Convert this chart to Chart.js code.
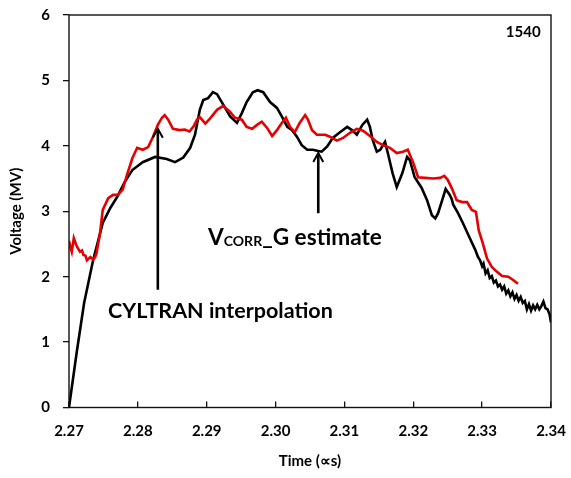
<!DOCTYPE html>
<html>
<head>
<meta charset="utf-8">
<script src="https://cdn.jsdelivr.net/npm/chart.js@4/dist/chart.umd.min.js"></script>
<style>
  html, body { margin: 0; padding: 0; background: #fff; }
  #wrap { width: 571px; height: 478px; }
</style>
</head>
<body>
<div id="wrap"><canvas id="chart" width="571" height="478"></canvas></div>
<script>
// Shot 1540: gap voltage vs time
const xTicks = [2.27, 2.28, 2.29, 2.30, 2.31, 2.32, 2.33, 2.34];
const yTicks = [0, 1, 2, 3, 4, 5, 6];

// V_CORR_G estimate (black)
const vcorrTime = [
  2.2700, 2.2711, 2.2722, 2.2735, 2.2749, 2.2760, 2.2770, 2.2781, 2.2792, 2.2807,
  2.2825, 2.2842, 2.2854, 2.2866, 2.2876, 2.2883, 2.2890, 2.2895, 2.2902, 2.2909,
  2.2915, 2.2924, 2.2934, 2.2944, 2.2951, 2.2958, 2.2967, 2.2974, 2.2982, 2.2992,
  2.3002, 2.3009, 2.3017, 2.3024, 2.3031, 2.3038, 2.3046, 2.3054, 2.3062, 2.3067,
  2.3075, 2.3083, 2.3094, 2.3104, 2.3111, 2.3118, 2.3126, 2.3133, 2.3137, 2.3141,
  2.3147, 2.3152, 2.3159, 2.3163, 2.3170, 2.3176, 2.3184, 2.3191, 2.3195, 2.3202,
  2.3212, 2.3220, 2.3227, 2.3232, 2.3236, 2.3242, 2.3247, 2.3253, 2.3256, 2.3258,
  2.3265, 2.3272, 2.3282, 2.3290, 2.3294, 2.3297, 2.3300, 2.3302, 2.3305, 2.3308,
  2.3311, 2.3314, 2.3317, 2.3320, 2.3323, 2.3326, 2.3329, 2.3332, 2.3335, 2.3338,
  2.3341, 2.3344, 2.3347, 2.3350, 2.3353, 2.3356, 2.3359, 2.3362, 2.3365, 2.3368,
  2.3371, 2.3374, 2.3377, 2.3380, 2.3383, 2.3386, 2.3389, 2.3392, 2.3395, 2.3398,
  2.3400
];
const vcorrVolt = [
  0.00, 0.83, 1.60, 2.25, 2.82, 3.05, 3.22, 3.45, 3.63, 3.75,
  3.83, 3.80, 3.75, 3.82, 3.97, 4.17, 4.55, 4.70, 4.73, 4.82,
  4.79, 4.63, 4.45, 4.35, 4.50, 4.67, 4.82, 4.85, 4.82, 4.67,
  4.58, 4.45, 4.29, 4.24, 4.14, 4.01, 3.94, 3.94, 3.92, 3.91,
  3.99, 4.12, 4.21, 4.29, 4.24, 4.17, 4.32, 4.40, 4.29, 4.09,
  3.91, 3.94, 4.06, 3.89, 3.58, 3.37, 3.58, 3.83, 3.78, 3.52,
  3.36, 3.17, 2.94, 2.89, 2.97, 3.17, 3.34, 3.25, 3.18, 3.10,
  2.97, 2.82, 2.59, 2.41, 2.30, 2.25, 2.16, 2.20, 2.05, 2.10,
  1.98, 2.01, 1.91, 1.94, 1.85, 1.88, 1.80, 1.85, 1.74, 1.79,
  1.70, 1.76, 1.66, 1.72, 1.63, 1.69, 1.60, 1.63, 1.50, 1.58,
  1.48, 1.56, 1.50, 1.57, 1.50, 1.55, 1.62, 1.52, 1.50, 1.42,
  1.30
];

// CYLTRAN interpolation (red)
const cyltranTime = [
  2.2700, 2.2702, 2.2704, 2.2707, 2.2710, 2.2712, 2.2716, 2.2719, 2.2721, 2.2724,
  2.2726, 2.2729, 2.2731, 2.2735, 2.2738, 2.2740, 2.2745, 2.2749, 2.2757, 2.2764,
  2.2771, 2.2778, 2.2784, 2.2792, 2.2799, 2.2807, 2.2815, 2.2822, 2.2829, 2.2835,
  2.2839, 2.2844, 2.2851, 2.2861, 2.2868, 2.2875, 2.2881, 2.2886, 2.2890, 2.2898,
  2.2905, 2.2915, 2.2924, 2.2934, 2.2941, 2.2951, 2.2958, 2.2966, 2.2973, 2.2980,
  2.2988, 2.2995, 2.3002, 2.3009, 2.3015, 2.3021, 2.3028, 2.3035, 2.3043, 2.3047,
  2.3053, 2.3060, 2.3072, 2.3079, 2.3089, 2.3098, 2.3108, 2.3118, 2.3127, 2.3137,
  2.3147, 2.3156, 2.3166, 2.3176, 2.3185, 2.3192, 2.3200, 2.3207, 2.3217, 2.3229,
  2.3239, 2.3245, 2.3250, 2.3256, 2.3263, 2.3271, 2.3278, 2.3285, 2.3291, 2.3295,
  2.3301, 2.3307, 2.3314, 2.3322, 2.3329, 2.3338, 2.3345, 2.3352
];
const cyltranVolt = [
  2.55, 2.45, 2.38, 2.59, 2.50, 2.45, 2.38, 2.40, 2.33, 2.32,
  2.25, 2.28, 2.30, 2.26, 2.30, 2.36, 2.66, 3.02, 3.20, 3.25,
  3.25, 3.33, 3.55, 3.81, 3.97, 3.94, 3.98, 4.14, 4.32, 4.43,
  4.47, 4.40, 4.26, 4.24, 4.25, 4.22, 4.30, 4.40, 4.44, 4.34,
  4.42, 4.55, 4.61, 4.52, 4.43, 4.40, 4.29, 4.26, 4.32, 4.37,
  4.27, 4.15, 4.24, 4.35, 4.43, 4.29, 4.21, 4.35, 4.47, 4.40,
  4.24, 4.17, 4.17, 4.14, 4.08, 4.12, 4.20, 4.26, 4.23, 4.15,
  4.06, 4.01, 3.97, 3.89, 3.91, 3.94, 3.74, 3.52, 3.51, 3.50,
  3.51, 3.54, 3.48, 3.35, 3.17, 3.14, 3.14, 3.02, 2.99, 2.71,
  2.51, 2.28, 2.15, 2.07, 2.01, 2.00, 1.95, 1.89
];

const FONT = 'Lato, "Open Sans", sans-serif';
const pairs = (xs, ys) => xs.map((x, i) => ({ x: x, y: ys[i] }));

// Arrows and callouts, positioned in data units
const arrows = [
  { x: 2.2829, from: 1.80, to: 4.26 },
  { x: 2.3062, from: 2.97, to: 3.89 }
];

const framePlugin = {
  id: 'frame',
  afterDatasetsDraw(chart) {
    const { ctx, chartArea: a } = chart;
    ctx.save();
    ctx.strokeStyle = '#111';
    ctx.lineWidth = 1.4;
    ctx.strokeRect(a.left, a.top, a.right - a.left, a.bottom - a.top);
    ctx.restore();
  }
};

const calloutPlugin = {
  id: 'callouts',
  afterDraw(chart) {
    const { ctx } = chart;
    const xs = chart.scales.x, ys = chart.scales.y;
    ctx.save();
    ctx.strokeStyle = '#000';
    ctx.fillStyle = '#000';
    ctx.lineCap = 'butt';

    // vertical arrows with open heads
    arrows.forEach(a => {
      const px = xs.getPixelForValue(a.x);
      const y0 = ys.getPixelForValue(a.from);
      const y1 = ys.getPixelForValue(a.to);
      ctx.lineWidth = 2.6;
      ctx.beginPath();
      ctx.moveTo(px, y0);
      ctx.lineTo(px, y1 + 1);
      ctx.stroke();
      ctx.lineWidth = 2;
      ctx.beginPath();
      ctx.moveTo(px - 5, y1 + 9);
      ctx.lineTo(px, y1);
      ctx.lineTo(px + 5, y1 + 9);
      ctx.stroke();
    });

    const fontAt = s => 'bold ' + s + 'px ' + FONT;
    const widthAt = (t, s) => { ctx.font = fontAt(s); return ctx.measureText(t).width; };

    ctx.textBaseline = 'alphabetic';
    ctx.textAlign = 'left';

    // "CYLTRAN interpolation"
    {
      const t = 'CYLTRAN interpolation';
      const s = 20 * 225 / widthAt(t, 20);
      ctx.font = fontAt(s);
      ctx.fillText(t, xs.getPixelForValue(2.27566), ys.getPixelForValue(1.368));
    }

    // "V_CORR_G estimate" with subscript
    {
      const k = 0.62;
      const w20 = widthAt('V', 20) + widthAt('CORR', 20 * k) + widthAt('_G estimate', 20);
      const s = 20 * 174 / w20;
      let x = xs.getPixelForValue(2.29019);
      const y = ys.getPixelForValue(2.485);
      ctx.font = fontAt(s);
      ctx.fillText('V', x, y);
      x += ctx.measureText('V').width;
      ctx.font = fontAt(s * k);
      ctx.fillText('CORR', x, y + 1);
      x += ctx.measureText('CORR').width;
      ctx.font = fontAt(s);
      ctx.fillText('_G estimate', x, y);
    }

    // shot number
    ctx.textAlign = 'right';
    ctx.font = fontAt(15);
    ctx.fillText('1540', xs.getPixelForValue(2.33849), ys.getPixelForValue(5.67));
    ctx.restore();
  }
};

new Chart(document.getElementById('chart'), {
  type: 'line',
  data: {
    datasets: [
      {
        label: 'CYLTRAN interpolation',
        data: pairs(cyltranTime, cyltranVolt),
        borderColor: '#e60000',
        borderWidth: 2.6,
        pointRadius: 0,
        tension: 0,
        fill: false
      },
      {
        label: 'VCORR_G estimate',
        data: pairs(vcorrTime, vcorrVolt),
        borderColor: '#000000',
        borderWidth: 2.6,
        pointRadius: 0,
        tension: 0,
        fill: false
      }
    ]
  },
  options: {
    responsive: false,
    animation: false,
    devicePixelRatio: 1,
    layout: { padding: { top: 15, right: 20, left: 0, bottom: 0 } },
    plugins: {
      legend: { display: false },
      tooltip: { enabled: false }
    },
    scales: {
      x: {
        type: 'linear',
        position: 'bottom',
        min: 2.27,
        max: 2.34,
        afterBuildTicks: s => { s.ticks = xTicks.map(v => ({ value: v })); },
        afterFit: s => { s.height = 70.5; s.paddingLeft = 0; s.paddingRight = 0; },
        border: { display: false },
        grid: {
          drawOnChartArea: false,
          drawTicks: true,
          tickLength: -6,
          color: '#111',
          lineWidth: 1.3
        },
        ticks: {
          color: '#000',
          padding: 21,
          maxRotation: 0,
          font: { family: FONT, size: 15, weight: 'bold' },
          callback: v => v.toFixed(2)
        },
        title: {
          display: true,
          text: 'Time (∝s)',
          color: '#000',
          font: { family: FONT, size: 15, weight: 'bold' },
          padding: { top: 0, bottom: 8 }
        }
      },
      y: {
        type: 'linear',
        min: 0,
        max: 6,
        afterBuildTicks: s => { s.ticks = yTicks.map(v => ({ value: v })); },
        afterFit: s => { s.width = 69; s.paddingTop = 0; s.paddingBottom = 0; },
        border: { display: false },
        grid: {
          drawOnChartArea: false,
          drawTicks: true,
          tickLength: 6,
          color: '#111',
          lineWidth: 1.3
        },
        ticks: {
          color: '#000',
          padding: 13,
          font: { family: FONT, size: 15, weight: 'bold' },
          callback: v => String(v)
        },
        title: {
          display: true,
          text: 'Voltage (MV)',
          color: '#000',
          font: { family: FONT, size: 15, weight: 'bold' },
          padding: { top: 7, bottom: 0 }
        }
      }
    }
  },
  plugins: [framePlugin, calloutPlugin]
});
</script>
</body>
</html>
